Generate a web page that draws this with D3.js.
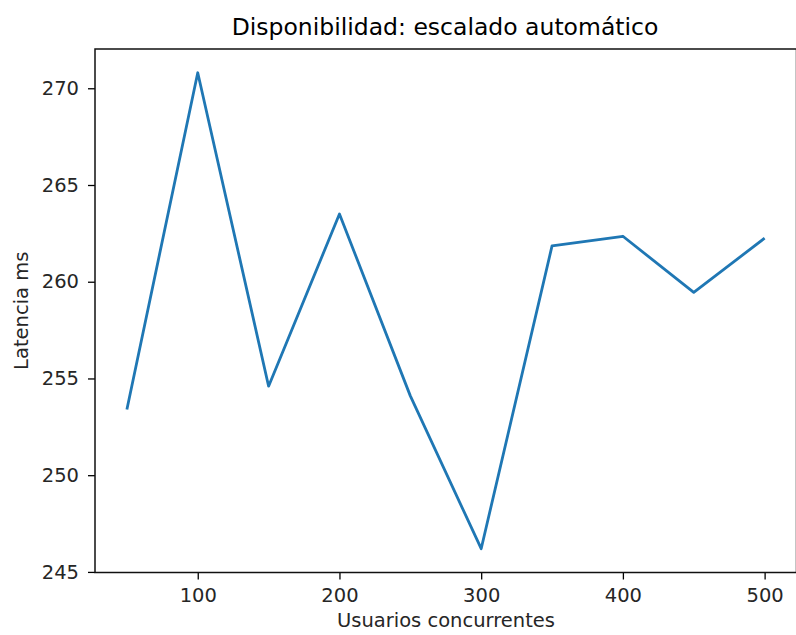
<!DOCTYPE html>
<html>
<head>
<meta charset="utf-8">
<script src="https://cdn.jsdelivr.net/npm/d3@7"></script>
<style>
  html, body { margin: 0; padding: 0; background: #fff; }
  svg { display: block; font-family: "DejaVu Sans", sans-serif; }
</style>
</head>
<body>
<svg id="chart" width="796" height="635"></svg>
<script>
// Concurrent users vs. latency (ms)
const usuarios = [50, 100, 150, 200, 250, 300, 350, 400, 450, 500];
const latencia = [253.4, 270.8, 254.6, 263.5, 254.1, 246.2, 261.85, 262.35, 259.45, 262.25];
const xTicks = [100, 200, 300, 400, 500];
const yTicks = [245, 250, 255, 260, 265, 270];

const titulo = "Disponibilidad: escalado automático";
const xTitulo = "Usuarios concurrentes";
const yTitulo = "Latencia ms";

const svg = d3.select("#chart");
const plot = { left: 95, right: 796.5, top: 49, bottom: 572.5 };

// 5% padding around the data range on both axes
function padded(values) {
  const [lo, hi] = d3.extent(values);
  const p = (hi - lo) * 0.05;
  return [lo - p, hi + p];
}

const x = d3.scaleLinear().domain(padded(usuarios)).range([plot.left, plot.right]);
const y = d3.scaleLinear().domain(padded(latencia)).range([plot.bottom, plot.top]);

const tickFont = "19.5px";
const ink = "#262626";

// X axis
const xAxis = svg.append("g")
  .attr("transform", `translate(0,${plot.bottom})`)
  .call(d3.axisBottom(x).tickValues(xTicks).tickFormat(d3.format("d")).tickSize(7).tickPadding(9));
xAxis.select(".domain").remove();
xAxis.selectAll("line").attr("stroke", "#000").attr("stroke-width", 1.3);
xAxis.selectAll("text").attr("font-size", tickFont).attr("fill", ink)
  .attr("font-family", "DejaVu Sans, sans-serif");

// Y axis
const yAxis = svg.append("g")
  .attr("transform", `translate(${plot.left},0)`)
  .call(d3.axisLeft(y).tickValues(yTicks).tickFormat(d3.format("d")).tickSize(7).tickPadding(9));
yAxis.select(".domain").remove();
yAxis.selectAll("line").attr("stroke", "#000").attr("stroke-width", 1.3);
yAxis.selectAll("text").attr("font-size", tickFont).attr("fill", ink)
  .attr("font-family", "DejaVu Sans, sans-serif");

// Data line
const line = d3.line().x((d, i) => x(usuarios[i])).y(d => y(d));
svg.append("path")
  .datum(latencia)
  .attr("d", line)
  .attr("fill", "none")
  .attr("stroke", "#1f77b4")
  .attr("stroke-width", 2.8)
  .attr("stroke-linejoin", "round")
  .attr("stroke-linecap", "butt");

// Frame (spines)
svg.append("rect")
  .attr("x", plot.left).attr("y", plot.top)
  .attr("width", plot.right - plot.left).attr("height", plot.bottom - plot.top)
  .attr("fill", "none").attr("stroke", "#111").attr("stroke-width", 1.5);

// Titles
svg.append("text")
  .attr("x", 445).attr("y", 35)
  .attr("text-anchor", "middle").attr("font-size", "23.5px").attr("fill", "#000")
  .text(titulo);

svg.append("text")
  .attr("x", 446).attr("y", 627)
  .attr("text-anchor", "middle").attr("font-size", "19.5px").attr("fill", ink)
  .text(xTitulo);

svg.append("text")
  .attr("transform", `translate(28,${(plot.top + plot.bottom) / 2}) rotate(-90)`)
  .attr("text-anchor", "middle").attr("font-size", "19.5px").attr("fill", ink)
  .text(yTitulo);
</script>
</body>
</html>
